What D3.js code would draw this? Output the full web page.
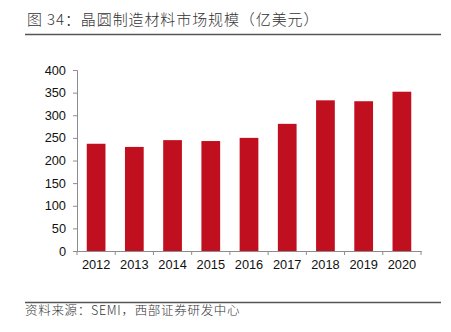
<!DOCTYPE html>
<html><head><meta charset="utf-8">
<script src="https://cdn.jsdelivr.net/npm/d3@7"></script>
<style>body{margin:0;background:#fff}svg{display:block}</style>
</head><body>
<script>
const years = ["2012","2013","2014","2015","2016","2017","2018","2019","2020"];
const values = [237, 230, 245, 243, 250, 281, 333, 331, 352];
const yTicks = [0,50,100,150,200,250,300,350,400];
const title = "图 34：晶圆制造材料市场规模（亿美元）";
const source = "资料来源：SEMI，西部证券研发中心";

const W = 451, H = 332;
const svg = d3.select("body").append("svg").attr("width", W).attr("height", H);
const m = {left: 77, right: 421, top: 70, bottom: 251};

svg.append("text").attr("x", 27).attr("y", 25)
  .attr("font-family", "'Noto Sans CJK SC'").attr("font-size", 15).attr("font-weight", 300)
  .attr("letter-spacing", 0.9).attr("fill", "#333").text(title);
svg.append("line").attr("x1", 25).attr("x2", 441).attr("y1", 34.5).attr("y2", 34.5)
  .attr("stroke", "#555").attr("stroke-width", 1.5);

const x = d3.scaleBand().domain(years).range([m.left, m.right]).paddingInner(0.51).paddingOuter(0.255);
const y = d3.scaleLinear().domain([0, 400]).range([m.bottom, m.top]);

const axisColor = "#8c8c8c";
const yAxis = svg.append("g").attr("transform", `translate(${m.left},0)`)
  .call(d3.axisLeft(y).tickValues(yTicks).tickSize(4).tickPadding(7));
yAxis.selectAll("path,line").attr("stroke", axisColor);
yAxis.selectAll("text").attr("font-family", "'Liberation Sans', Arial").attr("font-size", 12.8).attr("fill", "#111");

svg.selectAll("rect.bar").data(values).join("rect").attr("class", "bar")
  .attr("x", (d, i) => x(years[i])).attr("width", x.bandwidth())
  .attr("y", d => y(d)).attr("height", d => y(0) - y(d))
  .attr("fill", "#c00f1e");

const xAxis = svg.append("g").attr("transform", `translate(0,${m.bottom})`)
  .call(d3.axisBottom(x).tickSize(0).tickPadding(9));
xAxis.select("path").attr("stroke", axisColor);
xAxis.selectAll("text").attr("font-family", "'Liberation Sans', Arial").attr("font-size", 12.8).attr("fill", "#111");
// tick marks at category boundaries
const step = x.step();
const bounds = d3.range(years.length + 1).map(i => m.left + i * step);
svg.append("g").selectAll("line").data(bounds).join("line")
  .attr("x1", d => d).attr("x2", d => d).attr("y1", m.bottom).attr("y2", m.bottom + 4)
  .attr("stroke", axisColor);

svg.append("line").attr("x1", 25).attr("x2", 441).attr("y1", 302.5).attr("y2", 302.5)
  .attr("stroke", "#555").attr("stroke-width", 1.5);
svg.append("text").attr("x", 25).attr("y", 315)
  .attr("font-family", "'Noto Sans CJK SC'").attr("font-size", 12.5).attr("font-weight", 300)
  .attr("letter-spacing", 0.7).attr("fill", "#333").text(source);
</script>
</body></html>
